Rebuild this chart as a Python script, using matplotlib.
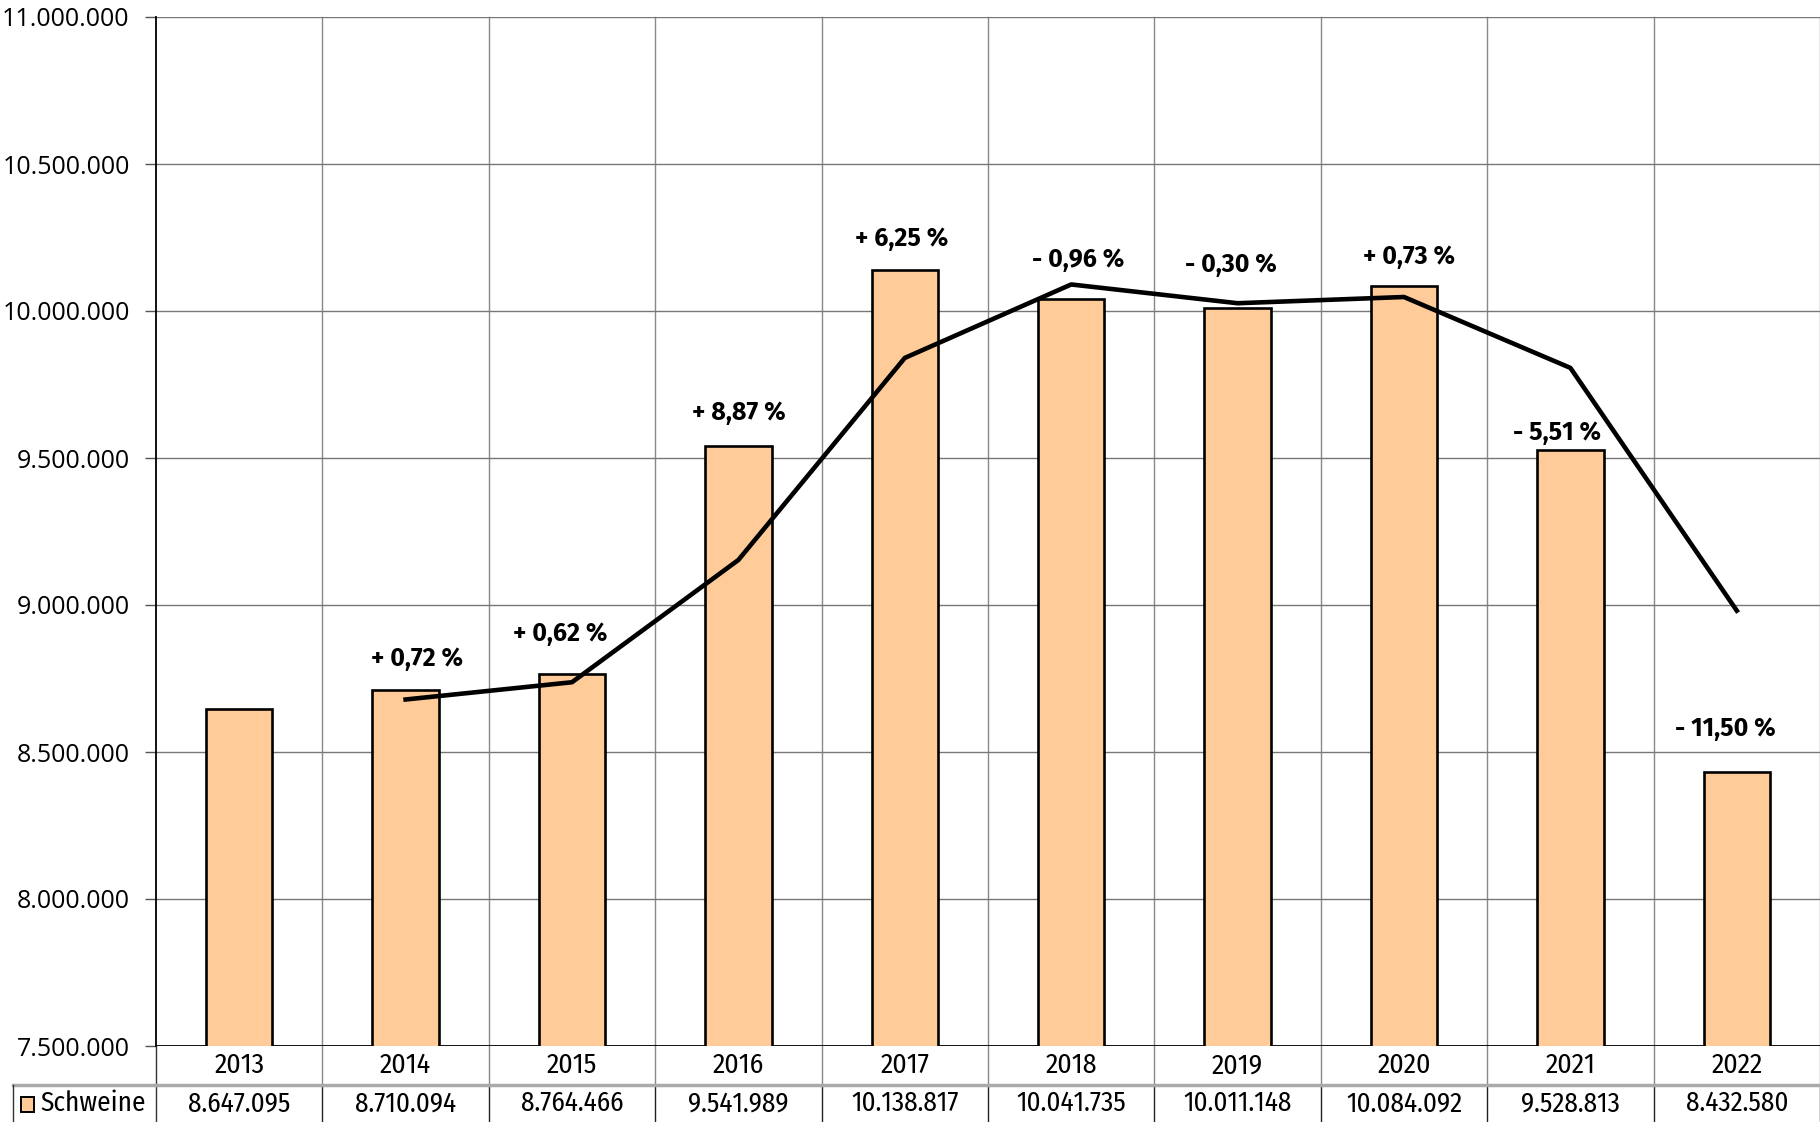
import numpy as np
import matplotlib
matplotlib.use('Agg')
import matplotlib.pyplot as plt
import matplotlib.transforms as mtransforms
from matplotlib.patches import Rectangle
from matplotlib.ticker import FuncFormatter, MultipleLocator

REG = ['Open Sans', 'Noto Sans', 'DejaVu Sans']
BOLD = ['Fira Sans', 'Open Sans', 'DejaVu Sans']
NARROW = ['Fira Sans Condensed', 'Roboto Condensed', 'Archivo Narrow', 'DejaVu Sans']
plt.rcParams['font.family'] = REG

# ── data ──────────────────────────────────────────────────────────────────────
years = ['2013', '2014', '2015', '2016', '2017', '2018', '2019', '2020', '2021', '2022']
schweine = [8647095, 8710094, 8764466, 9541989, 10138817,
            10041735, 10011148, 10084092, 9528813, 8432580]
# trend line (starts at 2014)
trend_years = ['2014', '2015', '2016', '2017', '2018', '2019', '2020', '2021', '2022']
trend_vals = [8678594, 8737280, 9153228, 9840403, 10090276,
              10026441, 10047620, 9806452, 8980696]
change_labels = ['+ 0,72 %', '+ 0,62 %', '+ 8,87 %', '+ 6,25 %', '- 0,96 %',
                 '- 0,30 %', '+ 0,73 %', '- 5,51 %', '- 11,50 %']

# label placement (offsets in points from bar top, x shift in category units)
lbl_dy = [14, 20, 15, 14, 19, 22, 12, 3, 22]
lbl_dx = [0.07, -0.07, 0.0, -0.02, 0.04, -0.04, 0.03, -0.08, -0.07]

BAR_COLOR = '#ffcc99'

W, H = 1820, 1122
fig = plt.figure(figsize=(W / 100, H / 100), dpi=100)
left, right, top, bottom = 156, 1820, 17, 1046
ax = fig.add_axes([left / W, (H - bottom) / H, (right - left) / W, (bottom - top) / H])

x = np.arange(len(years))
ax.bar(x, schweine, width=0.4, color=BAR_COLOR, edgecolor='black', lw=1.9, zorder=3)

xt = [years.index(y) for y in trend_years]
ax.plot(xt, trend_vals, color='black', lw=3.3, zorder=4)

for i, (lab, dy, dx) in enumerate(zip(change_labels, lbl_dy, lbl_dx)):
    xi = i + 1
    ax.annotate(lab, xy=(xi + dx, schweine[xi]), xytext=(0, dy), textcoords='offset points',
                ha='center', va='bottom', fontsize=18, fontweight='bold', family=BOLD,
                zorder=5)

ax.set_xlim(-0.5, len(years) - 0.5)
ax.set_ylim(7500000, 11000000)
ax.yaxis.set_major_locator(MultipleLocator(500000))
ax.yaxis.set_major_formatter(FuncFormatter(lambda v, p: f'{int(v):,}'.replace(',', '.')))
ax.tick_params(axis='y', labelsize=18, length=8, width=1, color='#555555', pad=11)
ax.grid(axis='y', color='#777777', lw=1, zorder=0)
ax.set_xticks([])

for s in ['top', 'right', 'bottom']:
    ax.spines[s].set_visible(False)
ax.spines['left'].set_color('black')
ax.spines['left'].set_linewidth(1.3)
ax.axhline(7500000, color='black', lw=1.3, zorder=2)

# ── data table below ──────────────────────────────────────────────────────────
ax_h = bottom - top
row1 = (1085 - bottom) / ax_h      # year row height (axes fraction)
row2 = (H - 1085) / ax_h           # value row height
trans = mtransforms.blended_transform_factory(ax.transData, ax.transAxes)

for b in np.arange(0.5, len(years), 1.0):
    ax.plot([b, b], [-row1, 1], transform=trans, color='#888888', lw=1,
            clip_on=False, zorder=1)
    ax.plot([b, b], [-row1 - row2, -row1], transform=trans, color='#222222', lw=1,
            clip_on=False, zorder=1)
ax.plot([-0.5, -0.5], [-row1 - row2, 0], transform=trans, color='#333333', lw=1,
        clip_on=False)

# separator between year row and value row
ax.plot([-0.5, len(years) - 0.5], [-row1, -row1], transform=trans, color='#aaaaaa',
        lw=2.5, clip_on=False)
fig.add_artist(plt.Line2D([13 / W, left / W], [(H - 1085) / H] * 2, color='#aaaaaa', lw=2.5))
fig.add_artist(plt.Line2D([13 / W, 13 / W], [0, (H - 1085) / H], color='#333333', lw=1))

for i, (yr, v) in enumerate(zip(years, schweine)):
    ax.text(i, -row1 / 2, yr, transform=trans, ha='center', va='center',
            fontsize=20, family=NARROW)
    ax.text(i, -row1 - row2 / 2, f'{v:,}'.replace(',', '.'), transform=trans,
            ha='center', va='center', fontsize=19.5, family=NARROW)

# legend key + series name
fig.add_artist(Rectangle((21 / W, (H - 1112) / H), 13 / W, 15 / H, transform=fig.transFigure,
                         facecolor=BAR_COLOR, edgecolor='black', lw=1.4))
fig.text(40 / W, (H - 1103) / H, 'Schweine', ha='left', va='center', fontsize=19.5,
         family=NARROW)

fig.savefig('out.png', dpi=100, facecolor='white')
